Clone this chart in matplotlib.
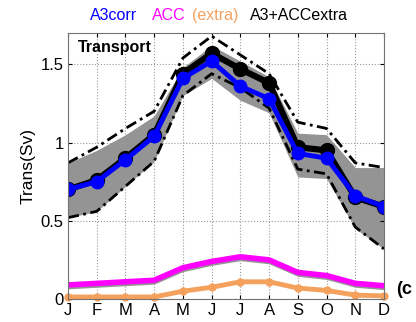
import numpy as np
import matplotlib
matplotlib.use("Agg")
from matplotlib import pyplot as plt

plt.rcParams['font.family'] = ['Liberation Sans', 'DejaVu Sans']

months = ['J', 'F', 'M', 'A', 'M', 'J', 'J', 'A', 'S', 'O', 'N', 'D']

# monthly transports (Sv)
a3corr = [0.70, 0.75, 0.89, 1.04, 1.41, 1.52, 1.36, 1.28, 0.93, 0.90, 0.66, 0.59]
a3_acc_extra = [0.70, 0.76, 0.90, 1.05, 1.44, 1.57, 1.47, 1.38, 0.97, 0.95, 0.65, 0.59]
env_upper = [0.87, 0.97, 1.09, 1.20, 1.54, 1.68, 1.56, 1.44, 1.13, 1.09, 0.87, 0.84]
env_lower = [0.52, 0.56, 0.72, 0.88, 1.30, 1.44, 1.35, 1.22, 0.83, 0.80, 0.46, 0.32]
spread_upper = [0.87, 0.95, 1.05, 1.17, 1.48, 1.62, 1.52, 1.42, 1.06, 1.05, 0.84, 0.84]
spread_lower = [0.52, 0.56, 0.72, 0.88, 1.30, 1.41, 1.27, 1.19, 0.78, 0.77, 0.45, 0.32]
acc = [0.09, 0.10, 0.11, 0.12, 0.20, 0.24, 0.27, 0.25, 0.17, 0.15, 0.10, 0.085]
acc_extra = [0.013, 0.013, 0.013, 0.013, 0.05, 0.075, 0.11, 0.11, 0.07, 0.055, 0.025, 0.02]

x = np.arange(1, 13)
orange = (0.96, 0.63, 0.37)
grey = (0.58, 0.58, 0.58)
dashdot = (0, (4, 1.6, 1, 1.6))

fig = plt.figure(figsize=(4.16, 3.22), dpi=100)
ax = fig.add_axes([0.1635, 0.0714, 0.7595, 0.8261])

ax.fill_between(x, spread_lower, spread_upper, color=grey, lw=0)
ax.plot(x, env_upper, color='k', lw=2, ls=dashdot)
ax.plot(x, env_lower, color='k', lw=2, ls=dashdot)
ax.plot(x, a3_acc_extra, color='k', lw=4.5, marker='o', ms=10)
ax.plot(x, a3corr, color=(0, 0, 1), lw=3.5, marker='o', ms=9)

# ACC with a thin grey shadow
ax.fill_between(x, np.array(acc) - 0.025, acc, color=grey, lw=0)
ax.plot(x, acc, color=(1, 0, 1), lw=4)
ax.plot(x, acc_extra, color=orange, lw=3.5, marker='o', ms=5, clip_on=False)

ax.set_xlim(1, 12)
ax.set_ylim(0, 1.7)
ax.set_xticks(x)
ax.set_xticklabels(months)
ax.set_yticks([0, 0.5, 1, 1.5])
ax.set_yticklabels(['0', '0.5', '1', '1.5'])
ax.tick_params(labelsize=12, direction='in', length=3, top=True, right=True, pad=3)
ax.grid(True, ls=':', color=(0.6, 0.6, 0.6), lw=0.8)
for s in ax.spines.values():
    s.set_color((0.45, 0.45, 0.45))
ax.set_ylabel('Trans(Sv)', fontsize=12.5, labelpad=4)

ax.text(0.03, 0.975, 'Transport', transform=ax.transAxes, fontsize=11.5,
        fontweight='bold', va='top', ha='left')
fig.text(0.953, 0.102, '(c', fontsize=13, fontweight='bold', va='center', ha='left')

# coloured title pieces
parts = [('A3corr', (0, 0, 1)), ('ACC', (1, 0, 1)), ('(extra)', orange), ('A3+ACCextra', 'k')]
xpos = [0.216, 0.365, 0.462, 0.601]
for (s, c), xp in zip(parts, xpos):
    fig.text(xp, 0.953, s, color=c, fontsize=11.5, ha='left', va='center')

fig.savefig('out.png', dpi=100)
